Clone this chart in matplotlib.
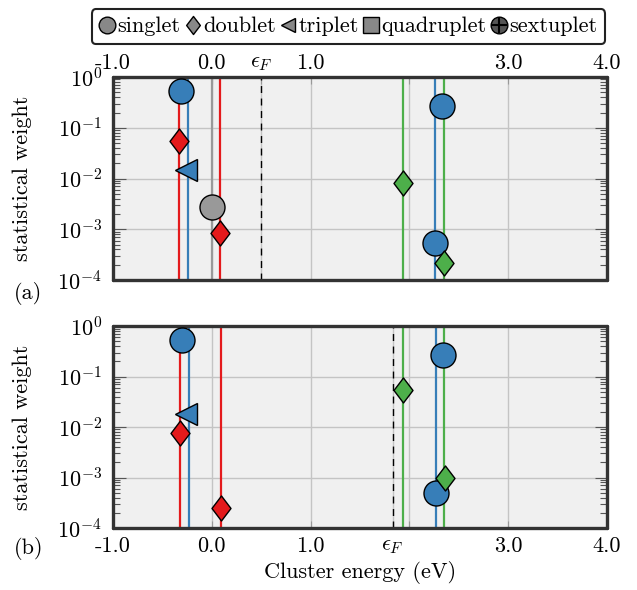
import numpy as np
import matplotlib.pyplot as plt
from matplotlib.lines import Line2D
from matplotlib.path import Path

plt.rcParams['font.family'] = 'serif'
plt.rcParams['font.serif'] = ['cmr10', 'DejaVu Serif']
plt.rcParams['mathtext.fontset'] = 'cm'
plt.rcParams['axes.formatter.use_mathtext'] = True
plt.rcParams['font.size'] = 16

# colours (ColorBrewer Set1)
blue = '#377eb8'
red = '#e41a1c'
green = '#4daf4a'
grey = '#999999'

# Fermi level in each panel
ef_a = 0.5
ef_b = 1.83

# panel (a): vertical lines at cluster energies
lines_a_x = [-0.33, -0.24, 0.0, 0.08, 1.94, 2.26, 2.35]
lines_a_c = [red, blue, grey, red, green, blue, green]
# panel (a): states
pts_a_x = [-0.31, -0.33, -0.26, 0.0, 0.08, 1.94, 2.33, 2.26, 2.35]
pts_a_w = [0.54, 0.055, 0.015, 0.0027, 8.5e-4, 0.008, 0.27, 5.3e-4, 2.2e-4]
pts_a_m = ['o', 'd', '<', 'o', 'd', 'd', 'o', 'o', 'd']
pts_a_c = [blue, red, blue, grey, red, green, blue, blue, green]

# panel (b)
lines_b_x = [-0.32, -0.23, 0.09, 1.94, 2.27, 2.35]
lines_b_c = [red, blue, red, green, blue, green]
pts_b_x = [-0.30, -0.26, -0.32, 0.09, 1.94, 2.34, 2.27, 2.36]
pts_b_w = [0.54, 0.0186, 0.0075, 2.5e-4, 0.054, 0.27, 4.9e-4, 1.0e-3]
pts_b_m = ['o', '<', 'd', 'd', 'd', 'o', 'o', 'd']
pts_b_c = [blue, blue, red, red, green, blue, blue, green]

# wider diamond than matplotlib's 'd'
diamond = Path([(0, 0.5), (0.38, 0), (0, -0.5), (-0.38, 0), (0, 0.5)],
               [Path.MOVETO, Path.LINETO, Path.LINETO, Path.LINETO, Path.CLOSEPOLY])
msize = {'o': 18, 'd': 18, '<': 16, 's': 14}


def mk(m):
    return diamond if m == 'd' else m


def draw_panel(ax, lx, lc, px, pw, pm, pc, ef, top):
    ax.set_facecolor('#f0f0f0')
    ax.set_xlim(-1, 4)
    ax.set_yscale('log')
    ax.set_ylim(1e-4, 1)
    ax.set_yticks([1e0, 1e-1, 1e-2, 1e-3, 1e-4])
    ax.grid(True, which='major', color='#c4c4c4', lw=1.0, zorder=0)
    ax.set_axisbelow(True)
    for x, c in zip(lx, lc):
        ax.axvline(x, color=c, lw=1.6, zorder=2)
    ax.axvline(ef, color='black', lw=1.0, ls=(0, (5, 4)), zorder=2)
    for x, w, m, c in zip(px, pw, pm, pc):
        ax.plot(x, w, ls='none', marker=mk(m), ms=msize[m], mfc=c,
                mec='black', mew=1.0, zorder=3)
    ticks = [-1, 0, 1, 2, 3, 4, ef]
    labels = ['-1.0', '0.0', '1.0', '', '3.0', '4.0', r'$\epsilon_F$']
    ax.set_xticks(ticks)
    ax.set_xticklabels(labels)
    if top:
        ax.xaxis.tick_top()
        ax.tick_params(axis='x', pad=3)
    else:
        ax.tick_params(axis='x', pad=6)
    ax.tick_params(axis='x', direction='in', length=5, color='#999999')
    ax.tick_params(axis='y', which='both', direction='in', left=True, right=True,
                   color='#555555', pad=8)
    ax.tick_params(axis='y', which='major', length=9, width=0.8)
    ax.tick_params(axis='y', which='minor', length=5, width=0.8)
    for s in ax.spines.values():
        s.set_linewidth(2.4)
        s.set_color('#333333')
        s.set_capstyle('round')
    ax.set_ylabel('statistical weight')
    ax.yaxis.set_label_coords(-0.164, 0.5)


fig = plt.figure(figsize=(6.37, 5.9), dpi=100)
ax1 = fig.add_axes([0.1774, 0.5254, 0.7755, 0.344])
ax2 = fig.add_axes([0.1774, 0.1051, 0.7755, 0.342])

draw_panel(ax1, lines_a_x, lines_a_c, pts_a_x, pts_a_w, pts_a_m, pts_a_c, ef_a, True)
draw_panel(ax2, lines_b_x, lines_b_c, pts_b_x, pts_b_w, pts_b_m, pts_b_c, ef_b, False)
ax2.set_xlabel('Cluster energy (eV)', labelpad=4)

fig.text(0.022, 0.503, '(a)', ha='left', va='center')
fig.text(0.022, 0.071, '(b)', ha='left', va='center')

# legend
handles = [
    Line2D([], [], ls='none', marker='o', ms=12, mfc='#888888', mec='black'),
    Line2D([], [], ls='none', marker=diamond, ms=13, mfc='#888888', mec='black'),
    Line2D([], [], ls='none', marker='<', ms=10, mfc='#888888', mec='black'),
    Line2D([], [], ls='none', marker='s', ms=11, mfc='#888888', mec='black'),
    (Line2D([], [], ls='none', marker='o', ms=12, mfc='#555555', mec='black'),
     Line2D([], [], ls='none', marker='+', ms=12, mec='black', mew=1.5)),
]
names = ['singlet', 'doublet', 'triplet', 'quadruplet', 'sextuplet']
leg = fig.legend(handles, names, loc='upper center', bbox_to_anchor=(0.547, 0.992),
                 ncol=5, handlelength=0.7, handletextpad=0.12, columnspacing=0.2,
                 borderpad=0.35, borderaxespad=0.2, fancybox=True, framealpha=1,
                 fontsize=16)
leg.get_frame().set_edgecolor('#222222')
leg.get_frame().set_linewidth(1.5)

fig.savefig('out.png', dpi=100)
